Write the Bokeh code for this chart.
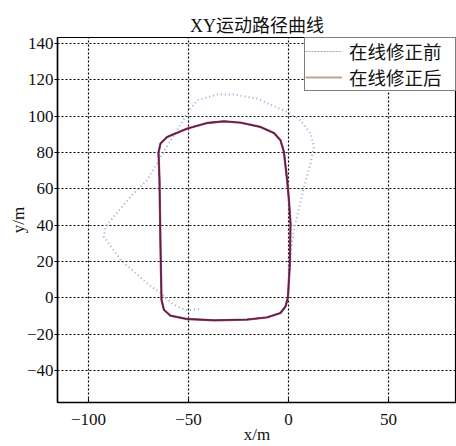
from bokeh.plotting import figure
from bokeh.models import Range1d, FixedTicker, Legend, LegendItem
from bokeh.embed import file_html
from bokeh.resources import INLINE

# ---- data ----
x_after = [-1.5, -0.3, 0.7, 1.0, 0.2, -0.7, -2.3, -4.0, -7.3, -14.0, -24.0, -32.3, -40.7,
           -50.7, -60.7, -64.0, -65.0, -64.5, -64.0, -63.5, -62.3, -59.0, -50.7, -37.0,
           -20.7, -10.7, -4.0, -1.5]
y_after = [-4.8, 0.0, 19.0, 41.0, 54.0, 65.0, 80.4, 86.8, 90.8, 94.1, 96.5, 97.2, 96.3,
           93.2, 88.6, 85.0, 80.0, 64.8, 28.0, -1.1, -6.6, -9.9, -11.7, -12.4,
           -12.0, -10.8, -8.4, -4.8]

x_before = [-44.8, -50.7, -57.3, -64.0, -70.7, -84.0, -92.3, -91.5, -79.0, -70.7, -64.0,
            -57.0, -50.7, -45.7, -35.7, -27.3, -15.7, -0.7, 6.0, 11.0, 12.7, 11.0, 8.0,
            2.7, 1.0, 0.2]
y_before = [-6.2, -7.0, -3.8, 2.6, 8.0, 20.9, 33.7, 39.2, 55.7, 64.8, 77.6,
            90.0, 101.5, 108.8, 112.0, 112.0, 109.7, 102.4, 97.8, 90.5, 83.1, 74.0, 62.0,
            37.4, 24.5, 15.0]

x_ticks = [-100, -50, 0, 50]
x_tick_labels = ["\u2212100", "\u221250", "0", "50"]
y_ticks = [-40, -20, 0, 20, 40, 60, 80, 100, 120, 140]
y_tick_labels = ["\u221240", "\u221220", "0", "20", "40", "60", "80", "100", "120", "140"]

series_labels = ["在线修正前", "在线修正后"]
title_text = "XY运动路径曲线"

SERIF = "'Liberation Serif', 'Noto Sans CJK SC'"
NAN = float("nan")

p = figure(width=456, height=446, output_backend="svg", toolbar_location=None,
           x_range=Range1d(-115.5, 84), y_range=Range1d(-57.7, 143.4),
           min_border_left=57, min_border_right=0, min_border_top=37, min_border_bottom=43)

p.title.text = title_text
p.title.align = "center"
p.title.text_font = SERIF
p.title.text_font_size = "18px"
p.title.text_font_style = "normal"
p.title.text_color = "#111111"
p.title.standoff = 4

# lines
p.line(x_before, y_before, line_color="#98acd6", line_width=2.0, line_dash="1 3")
p.line(x_after, y_after, line_color="#cc3c7e", line_width=2.3)
p.line(x_after, y_after, line_color="#4a2a44", line_width=1.5)

# legend-only renderers
r1 = p.line([NAN], [NAN], line_color="#b898b4", line_width=1.2, line_dash="2 1")
r2 = p.line([NAN], [NAN], line_color="#b8a898", line_width=2.0)
legend = Legend(items=[LegendItem(label=series_labels[0], renderers=[r1]),
                       LegendItem(label=series_labels[1], renderers=[r2])],
                location="top_right", margin=0, padding=0, spacing=0,
                glyph_width=37, glyph_height=20, label_height=20, label_standoff=7,
                label_width=106,
                label_text_font=SERIF, label_text_font_size="18.5px",
                label_text_color="#111111",
                border_line_color="black", border_line_width=1.2,
                background_fill_color="white", background_fill_alpha=1.0)
p.add_layout(legend)

# axes
p.xaxis.ticker = FixedTicker(ticks=x_ticks)
p.yaxis.ticker = FixedTicker(ticks=y_ticks)
p.xaxis.major_label_overrides = dict(zip(x_ticks, x_tick_labels))
p.yaxis.major_label_overrides = dict(zip(y_ticks, y_tick_labels))
for ax in (p.xaxis, p.yaxis):
    ax.major_label_text_font = SERIF
    ax.major_label_text_font_size = "17px"
    ax.major_label_text_color = "#111111"
    ax.axis_label_text_font = SERIF
    ax.axis_label_text_font_size = "17px"
    ax.axis_label_text_font_style = "normal"
    ax.axis_label_text_color = "#111111"
    ax.axis_line_color = "black"
    ax.axis_line_width = 1.5
    ax.major_tick_line_color = "black"
    ax.minor_tick_line_color = None
p.xaxis.major_tick_in = 4
p.xaxis.major_tick_out = 0
p.yaxis.major_tick_in = 0
p.yaxis.major_tick_out = 3
p.xaxis.major_label_standoff = 11
p.yaxis.major_label_standoff = 1
p.xaxis.axis_label = "x/m"
p.yaxis.axis_label = "y/m"
p.xaxis.axis_label_standoff = -3
p.yaxis.axis_label_standoff = -4

p.xgrid.grid_line_color = "black"
p.ygrid.grid_line_color = "black"
p.xgrid.grid_line_dash = "2 2"
p.ygrid.grid_line_dash = "2 2"
p.xgrid.grid_line_width = 1.2
p.ygrid.grid_line_width = 1.2

p.outline_line_color = "black"
p.outline_line_width = 1.2
p.background_fill_color = "white"
p.border_fill_color = "white"

open("out.html", "w").write(file_html(p, INLINE))
